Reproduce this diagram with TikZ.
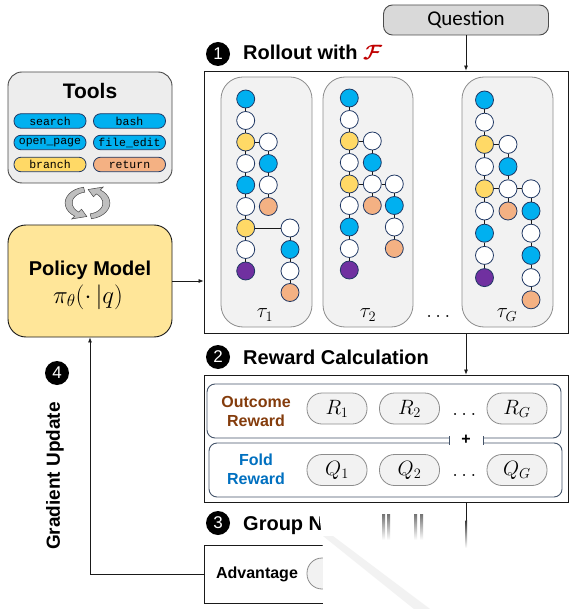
\documentclass[tikz,border=0pt]{standalone}
\usepackage{amsmath}
\usepackage{fontspec}
\setmainfont{Liberation Sans}
\setmonofont{Liberation Mono}
\newfontfamily\calibrifont{Carlito}
\usetikzlibrary{arrows.meta}
\definecolor{Ink}{HTML}{1A1A1A}
\definecolor{NodeEdge}{HTML}{203864}
\definecolor{CallBlue}{HTML}{00B0F0}
\definecolor{BranchGold}{HTML}{FFD966}
\definecolor{ReturnPeach}{HTML}{F4B183}
\definecolor{AnswerPurple}{HTML}{7030A0}
\definecolor{PanelGray}{HTML}{F2F2F2}
\definecolor{PanelEdge}{HTML}{8C8C8C}
\definecolor{QGray}{HTML}{D9D9D9}
\definecolor{PolicyYellow}{HTML}{FFE699}
\definecolor{SlateEdge}{HTML}{44546A}
\definecolor{OutcomeBrown}{HTML}{843C0C}
\definecolor{FoldBlue}{HTML}{0070C0}
\definecolor{FRed}{HTML}{C00000}
\tikzset{ball/.style={circle,draw=NodeEdge,line width=0.8pt,minimum size=18pt,inner sep=0pt},bcall/.style={ball,fill=CallBlue},bplain/.style={ball,fill=white},bbranch/.style={ball,fill=BranchGold},bret/.style={ball,fill=ReturnPeach},bans/.style={ball,fill=AnswerPurple},link/.style={draw=Ink,line width=0.7pt},flow/.style={draw=Ink,line width=0.7pt,-{Latex[length=5pt,width=4pt]}},toolpill/.style={draw=NodeEdge,line width=0.8pt,rounded corners=7pt,minimum width=72pt,minimum height=14.5pt,inner sep=0pt,font=\ttfamily\fontsize{11.5}{12}\selectfont},numdot/.style={circle,fill=black,text=white,minimum size=24pt,inner sep=0pt,font=\fontsize{17}{17}\selectfont},headline/.style={anchor=base west,inner sep=0pt,font=\bfseries\fontsize{20}{24}\selectfont},trajbox/.style={draw=PanelEdge,fill=PanelGray,line width=0.8pt,rounded corners=22pt},frame/.style={draw=Ink,line width=0.8pt,inner sep=0pt},scorepill/.style={draw=PanelEdge,fill=PanelGray,line width=0.8pt,rounded corners=15pt,minimum width=60pt,minimum height=31pt,inner sep=0pt,font=\fontsize{21}{21}\selectfont},rewardrow/.style={draw=SlateEdge,line width=0.9pt,rounded corners=8pt,fill=white,inner sep=0pt},rowlabel/.style={font=\bfseries\fontsize{16}{19}\selectfont,align=center},taulabel/.style={font=\fontsize{22}{22}\selectfont},cyclearrow/.style={fill=black!25,draw=Ink!80,line width=0.5pt}}

\begin{document}
\begin{tikzpicture}[x=1pt,y=-1pt]
\useasboundingbox (0,0) rectangle (575,609);
\fill[white] (0,0) rectangle (575,609);
% tools and policy
\node[draw=Ink!80,fill=black!7,line width=0.9pt,rounded corners=14pt,minimum width=164pt,minimum height=111pt] (tools) at (90,127.5) {};
\node[font=\bfseries\fontsize{21}{24}\selectfont] (toolstitle) at (90,91) {Tools};
\node[toolpill,fill=CallBlue] (search) at (50,121) {search};\node[toolpill,fill=CallBlue] (bash) at (129.5,121) {bash};
\node[toolpill,fill=CallBlue] (openpage) at (50,142.5) {open\_page};\node[toolpill,fill=CallBlue] (fileedit) at (129.5,142.5) {file\_edit};
\node[toolpill,fill=BranchGold] (branch) at (50,164.5) {branch};\node[toolpill,fill=ReturnPeach] (return) at (129.5,164.5) {return};
\begin{scope}[shift={(87.5,203)},x=1.4pt,y=1pt]
\filldraw[cyclearrow] (100:16) arc[start angle=100,end angle=235,radius=16]--(235:19.5)--(268:13.5)--(235:7.5)--(235:11) arc[start angle=235,end angle=100,radius=11]--cycle;
\filldraw[cyclearrow] (280:16) arc[start angle=280,end angle=415,radius=16]--(415:19.5)--(448:13.5)--(415:7.5)--(415:11) arc[start angle=415,end angle=280,radius=11]--cycle;
\end{scope}
\node[draw=Ink,fill=PolicyYellow,line width=0.9pt,rounded corners=18pt,minimum width=164pt,minimum height=112pt] (policy) at (90,281) {};
\node[font=\bfseries\fontsize{20}{24}\selectfont] (policytitle) at (90,270) {Policy Model};
\node[font=\fontsize{25}{26}\selectfont] (policyform) at (88,297) {$\pi_\theta(\cdot\,|q)$};
% step 1
\node[draw=black!70,fill=QGray,line width=0.9pt,rounded corners=9pt,minimum width=165pt,minimum height=30pt,font=\calibrifont\fontsize{21}{24}\selectfont] (question) at (466,20) {Question};
\node[numdot] (n1) at (218,54) {1};\node[headline] (rollouthead) at (243,60) {Rollout with \textcolor{FRed}{$\boldsymbol{\mathcal{F}}$}};
\node[frame,minimum width=364pt,minimum height=262pt] (rollout) at (386,202) {};
\draw[flow] (question.south)--(question.south |- rollout.north);
\draw[flow] (policy.east)--(policy.east -| rollout.west);
\draw[trajbox] (221,77) rectangle (312,327);\draw[trajbox] (323,77) rectangle (413,327);\draw[trajbox] (462,77) rectangle (553,327);
% trajectory 1
\node[bcall] (a1) at (245.7,99) {};\node[bplain] (a2) at (245.7,120.5) {};\node[bbranch] (a3) at (245.7,142) {};\node[bplain] (a4) at (245.7,163.5) {};\node[bcall] (a5) at (245.7,185) {};\node[bplain] (a6) at (245.7,206.5) {};\node[bbranch] (a7) at (245.7,228) {};\node[bplain] (a8) at (245.7,249.5) {};\node[bans] (a9) at (245.7,271) {};
\node[bplain] (b3) at (268.3,142) {};\node[bcall] (b4) at (268.3,163.5) {};\node[bplain] (b5) at (268.3,185) {};\node[bret] (b6) at (268.3,206.5) {};
\node[bplain] (c7) at (290,228) {};\node[bcall] (c8) at (290,249.5) {};\node[bplain] (c9) at (290,271) {};\node[bret] (c10) at (290,292.5) {};
\draw[link] (a1)--(a2)--(a3)--(a4)--(a5)--(a6)--(a7)--(a8)--(a9);\draw[link] (a3)--(b3)--(b4)--(b5)--(b6);\draw[link] (a7)--(c7)--(c8)--(c9)--(c10);
% trajectory 2
\node[bcall] (d1) at (349.3,98) {};\node[bplain] (d2) at (349.3,119.5) {};\node[bbranch] (d3) at (349.3,141) {};\node[bplain] (d4) at (349.3,162.5) {};\node[bbranch] (d5) at (349.3,184) {};\node[bplain] (d6) at (349.3,205.5) {};\node[bcall] (d7) at (349.3,227) {};\node[bplain] (d8) at (349.3,248.5) {};\node[bans] (d9) at (349.3,270) {};
\node[bplain] (e3) at (372.3,141) {};\node[bcall] (e4) at (372.3,162.5) {};\node[bplain] (e5) at (372.3,184) {};\node[bret] (e6) at (372.3,205.5) {};
\node[bplain] (f5) at (394.3,184) {};\node[bcall] (f6) at (394.3,205.5) {};\node[bplain] (f7) at (394.3,227) {};\node[bret] (f8) at (394.3,248.5) {};
\draw[link] (d1)--(d2)--(d3)--(d4)--(d5)--(d6)--(d7)--(d8)--(d9);\draw[link] (d3)--(e3)--(e4)--(e5)--(e6);\draw[link] (d5)--(e5)--(f5)--(f6)--(f7)--(f8);
% trajectory G
\node[bcall] (g1) at (484.5,100) {};\node[bplain] (g2) at (484.5,122.2) {};\node[bbranch] (g3) at (484.5,144.4) {};\node[bplain] (g4) at (484.5,166.6) {};\node[bbranch] (g5) at (484.5,188.8) {};\node[bplain] (g6) at (484.5,211) {};\node[bcall] (g7) at (484.5,233.2) {};\node[bplain] (g8) at (484.5,255.4) {};\node[bans] (g9) at (484.5,277.6) {};
\node[bplain] (h3) at (508,144.4) {};\node[bcall] (h4) at (508,166.6) {};\node[bplain] (h5) at (508,188.8) {};\node[bret] (h6) at (508,211) {};
\node[bplain] (k5) at (531,188.8) {};\node[bcall] (k6) at (531,211) {};\node[bplain] (k7) at (531,233.2) {};\node[bcall] (k8) at (531,255.4) {};\node[bplain] (k9) at (531,277.6) {};\node[bret] (k10) at (531,299.8) {};
\draw[link] (g1)--(g2)--(g3)--(g4)--(g5)--(g6)--(g7)--(g8)--(g9);\draw[link] (g3)--(h3)--(h4)--(h5)--(h6);\draw[link] (g5)--(h5)--(k5)--(k6)--(k7)--(k8)--(k9)--(k10);
\node[taulabel] (tau1) at (265,315) {$\tau_1$};\node[taulabel] (tau2) at (368,315) {$\tau_2$};\node[taulabel] (taudots) at (440,316) {$\dots$};\node[taulabel] (tauG) at (507,315) {$\tau_G$};
% step 2
\node[numdot] (n2) at (218,357) {2};\node[headline] (rewardhead) at (243,364) {Reward Calculation};
\node[frame,minimum width=364pt,minimum height=127pt] (reward) at (386,438.5) {};
\draw[flow] (question.south |- rollout.south)--(question.south |- reward.north);
\node[rewardrow,minimum width=354pt,minimum height=54pt] (outrow) at (384,411) {};
\node[rewardrow,minimum width=353pt,minimum height=54pt] (foldrow) at (385.5,470) {};
\fill[white] (449,436) rectangle (483,446);\draw[SlateEdge,line width=0.9pt] (449,436)--(449,445) (483,436)--(483,445);
\node[font=\bfseries\fontsize{16}{19}\selectfont] (plus) at (466,440) {+};
\node[rowlabel,text=OutcomeBrown] (outlabel) at (256,411) {Outcome\\Reward};\node[rowlabel,text=FoldBlue] (foldlabel) at (256,469) {Fold\\Reward};
\node[scorepill] (r1) at (337,408.5) {$R_1$};\node[scorepill] (r2) at (409.5,408.5) {$R_2$};\node[taulabel] (rdots) at (466,414) {$\dots$};\node[scorepill] (rG) at (517,408.5) {$R_G$};
\node[scorepill] (q1) at (337,470) {$Q_1$};\node[scorepill] (q2) at (409.5,470) {$Q_2$};\node[taulabel] (qdots) at (466,475) {$\dots$};\node[scorepill] (qG) at (517,470) {$Q_G$};
% step 3 and 4
\node[numdot] (n3) at (218,523) {3};\node[headline] (grouphead) at (243,530) {Group N};
\node[frame,minimum width=236pt,minimum height=58pt] (advbox) at (322,574) {};
\node[rowlabel] (advlabel) at (257,574) {Advantage};\node[scorepill] (adv1) at (337,573.5) {};
\draw[flow] (advbox.west) -| (policy.south);
\node[numdot] (n4) at (57,373) {4};\node[font=\bfseries\fontsize{19}{22}\selectfont,rotate=90] (gradlabel) at (55,476) {Gradient Update};
\fill[white] (319,512)--(575,512)--(575,609)--(323,609)--(323,548)--cycle;
\fill[black!5] (323,536)--(333,536)--(430,609)--(414,609)--cycle;
\coordinate (fadetop) at (466,520);
\draw[link] (question.south |- reward.south)--(fadetop);
\shade[top color=black!80,bottom color=white] (465.6,520) rectangle (467,548);
\shade[top color=black!55,bottom color=white] (382,514) rectangle (385,540);\shade[top color=black!55,bottom color=white] (387,514) rectangle (390,540);
\shade[top color=black!55,bottom color=white] (414,514) rectangle (417,540);\shade[top color=black!55,bottom color=white] (420,514) rectangle (423,540);
\end{tikzpicture}
\end{document}
